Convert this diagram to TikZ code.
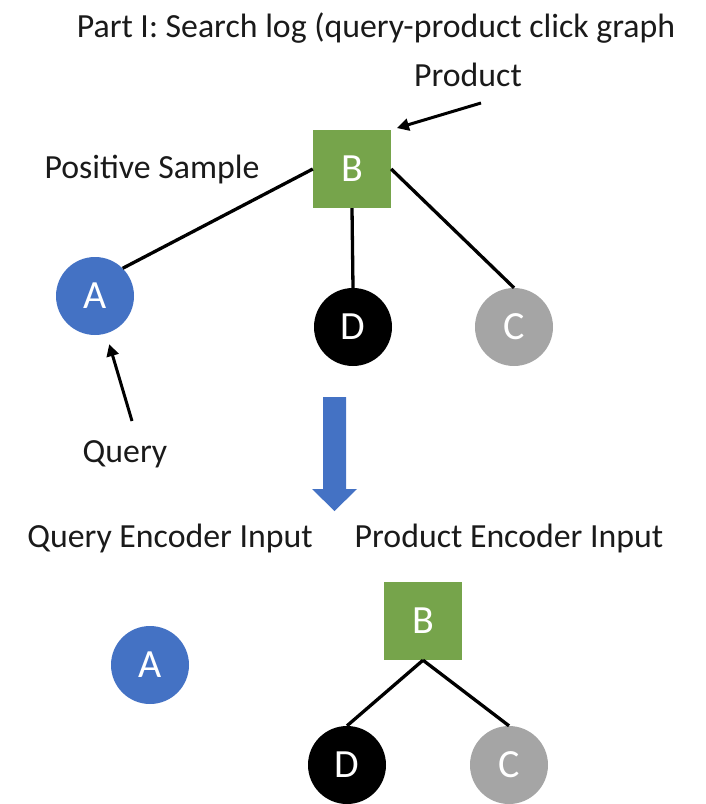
\documentclass[tikz,border=0pt]{standalone}
\usepackage{fontspec}
\setmainfont{Carlito}
\usetikzlibrary{arrows.meta}
\definecolor{qblue}{HTML}{4472C4}
\definecolor{pgreen}{HTML}{76A44B}
\definecolor{ngray}{HTML}{A5A5A5}
\definecolor{txt}{HTML}{1A1A1A}
\begin{document}
\begin{tikzpicture}[x=1pt,y=-1pt,
  lbl/.style={font=\fontsize{33.8}{40}\selectfont, text=txt, anchor=base, inner sep=0pt},
  letter/.style={font=\fontsize{40}{42}\selectfont, text=white, inner sep=0pt, minimum size=78pt},
  sq/.style={letter, rectangle, fill=pgreen},
  circ/.style={letter, circle},
  edge/.style={line width=3.3pt, black},
  ptr/.style={line width=3pt, black, -{Triangle[length=12pt,width=12pt]}}
]
\useasboundingbox (0,0) rectangle (705,804);
% labels
\node[lbl] (title) at (376,37) {Part I: Search log (query-product click graph};
\node[lbl] (prodlbl) at (468,86) {Product};
\node[lbl] (poslbl) at (152,178) {Positive Sample};
\node[lbl] (querylbl) at (125,462) {Query};
\node[lbl] (qenc) at (170,547) {Query Encoder Input};
\node[lbl] (penc) at (509,547) {Product Encoder Input};
% top graph
\node[sq] (B) at (352,169) {B};
\node[circ, fill=qblue] (A) at (95,296) {A};
\node[circ, fill=black] (D) at (353,327) {D};
\node[circ, fill=ngray] (C) at (514,327) {C};
\draw[edge] (B.west) -- (A.45);
\draw[edge] (B.south) -- (D.north);
\draw[edge] (B.east) -- (C.north);
% pointers
\coordinate (pT) at (481,103);
\draw[ptr, shorten >=6pt] (pT) -- (B.north east);
\coordinate (qT) at (132,421);
\draw[ptr, shorten >=11pt] (qT) -- (A);
% big arrow
\fill[qblue] (323,397) -- (346,397) -- (346,489) -- (357,489) -- (334.5,511) -- (312,489) -- (323,489) -- cycle;
% bottom graph
\node[circ, fill=qblue] (A2) at (150,665) {A};
\node[sq] (B2) at (423,621) {B};
\node[circ, fill=black] (D2) at (347,765) {D};
\node[circ, fill=ngray] (C2) at (509,765) {C};
\draw[edge] (B2.south) -- (D2.north);
\draw[edge] (B2.south) -- (C2.north);
\end{tikzpicture}
\end{document}
